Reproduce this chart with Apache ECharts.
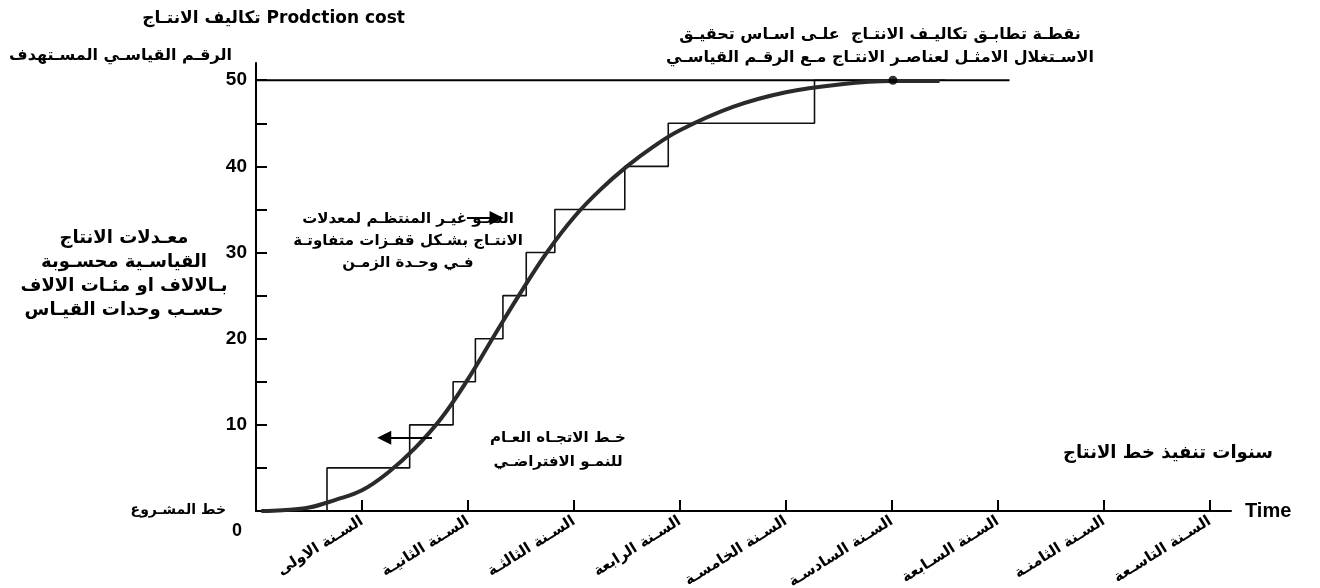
<!DOCTYPE html>
<html>
<head>
<meta charset="utf-8">
<script src="https://cdn.jsdelivr.net/npm/echarts@6/dist/echarts.min.js"></script>
<style>
  html, body { margin: 0; padding: 0; background: #fff; }
  #chart { width: 1320px; height: 588px; }
</style>
</head>
<body>
<div id="chart"></div>
<script>
// سنوات تنفيذ خط الانتاج
const yearTicks = [1, 2, 3, 4, 5, 6, 7, 8, 9]
const yearLabels = [
  'السـنة الاولى', 'السـنة الثانيـة', 'السـنة الثالثـة', 'السـنة الرابعة', 'السـنة الخامسـة',
  'السـنة السادسـة', 'السـنة السـابعة', 'السـنة الثامنـة', 'السـنة التاسـعة'
]
const yTickValues = [5, 10, 15, 20, 25, 30, 35, 40, 45, 50]
const yLabelValues = [10, 20, 30, 40, 50]

// القفزات (النمو غير المنتظم)
const stepRiseX = [0.67, 1.45, 1.86, 2.07, 2.33, 2.55, 2.82, 3.48, 3.89, 5.27]
const stepLevels = [5, 10, 15, 20, 25, 30, 35, 40, 45, 50]
const stepEndX = 6.5

// خط الاتجاه العام
const curveX = [0.05, 0.25, 0.5, 0.75, 1.0, 1.25, 1.5, 1.75, 2.0, 2.25, 2.5, 2.75, 3.0, 3.25, 3.5, 3.75, 4.0, 4.5, 5.0, 5.5, 6.0, 6.45]
const curveY = [0, 0.1, 0.4, 1.3, 2.4, 4.5, 7.3, 10.8, 15.3, 20.4, 25.4, 30.1, 34.1, 37.3, 40.0, 42.3, 44.2, 46.9, 48.6, 49.5, 49.9, 49.9]

// الرقم القياسي المستهدف
const targetX = [0, 7.11]
const targetY = [50, 50]
const matchX = 6.01
const matchY = 50

// الاسهم
const arrowRight = [[1.99, 34.0], [2.27, 34.0]]
const arrowLeft = [[1.66, 8.5], [1.21, 8.5]]

const stepData = [[stepRiseX[0], 0]]
stepRiseX.forEach((x, i) => stepData.push([x, stepLevels[i]]))
stepData.push([stepEndX, stepLevels[stepLevels.length - 1]])

const curveData = curveX.map((x, i) => [x, curveY[i]])
const targetData = targetX.map((x, i) => [x, targetY[i]])

const AR = '"DejaVu Sans", "Noto Sans", sans-serif'
const LAT = '"Liberation Sans", Arial, sans-serif'

// نص ثابت
const txt = (text, x, y, size, align, family, lineHeight) => ({
  type: 'text',
  x: x,
  y: y,
  style: {
    text: text,
    fill: '#000',
    font: 'bold ' + size + 'px ' + (family || AR),
    align: align || 'center',
    textAlign: align || 'center',
    verticalAlign: 'middle',
    textVerticalAlign: 'middle',
    lineHeight: lineHeight || size + 8
  }
})

const chart = echarts.init(document.getElementById('chart'))
chart.setOption({
  animation: false,
  backgroundColor: '#fff',
  grid: { left: 256, right: 89, top: 63, bottom: 77, containLabel: false, outerBoundsMode: 'none' },
  xAxis: {
    type: 'value',
    min: 0,
    max: 9.2,
    axisLine: { show: true, lineStyle: { color: '#000', width: 2 } },
    axisTick: {
      show: true,
      inside: true,
      length: 11,
      customValues: yearTicks,
      lineStyle: { color: '#000', width: 2 }
    },
    axisLabel: {
      customValues: yearTicks,
      rotate: 32,
      margin: 9,
      color: '#000',
      fontSize: 15,
      fontWeight: 'bold',
      fontFamily: AR,
      formatter: (v) => yearLabels[Math.round(v) - 1] || ''
    },
    splitLine: { show: false }
  },
  yAxis: {
    type: 'value',
    min: 0,
    max: 52,
    axisLine: { show: true, lineStyle: { color: '#000', width: 2 } },
    axisTick: {
      show: true,
      inside: true,
      length: 11,
      customValues: yTickValues,
      lineStyle: { color: '#000', width: 2 }
    },
    axisLabel: {
      customValues: yLabelValues,
      margin: 9,
      color: '#000',
      fontSize: 19,
      fontWeight: 'bold',
      fontFamily: LAT
    },
    splitLine: { show: false }
  },
  series: [
    {
      name: 'steps',
      type: 'line',
      step: 'end',
      data: stepData,
      showSymbol: false,
      lineStyle: { color: '#111', width: 1.6 },
      z: 2
    },
    {
      name: 'target',
      type: 'line',
      data: targetData,
      showSymbol: false,
      lineStyle: { color: '#000', width: 2 },
      z: 3,
      markLine: {
        silent: true,
        symbol: ['none', 'triangle'],
        symbolSize: 14,
        label: { show: false },
        lineStyle: { color: '#000', width: 2, type: 'solid' },
        data: [
          [{ coord: arrowRight[0] }, { coord: arrowRight[1] }],
          [{ coord: arrowLeft[0] }, { coord: arrowLeft[1] }]
        ]
      }
    },
    {
      name: 'trend',
      type: 'line',
      smooth: 0.4,
      data: curveData,
      showSymbol: false,
      lineStyle: { color: '#2a2a2a', width: 4 },
      z: 4
    },
    {
      name: 'match',
      type: 'scatter',
      data: [[matchX, matchY]],
      symbolSize: 9,
      itemStyle: { color: '#000' },
      z: 5
    }
  ],
  graphic: [
    txt('تكاليف الانتـاج Prodction cost', 405, 19, 17, 'right'),
    txt('الرقـم القياسـي المسـتهدف', 232, 56, 16, 'right'),
    txt('نقطـة تطابـق تكاليـف الانتـاج  علـى اسـاس تحقيـق\nالاسـتغلال الامثـل لعناصـر الانتـاج مـع الرقـم القياسـي', 880, 46, 16, 'center', AR, 23),
    txt('معـدلات الانتاج\nالقياسـية محسـوبة\nبـالالاف او مئـات الالاف\nحسـب وحدات القيـاس', 124, 274, 18, 'center', AR, 24),
    txt('النمـو غيـر المنتظـم لمعدلات\nالانتـاج بشـكل قفـزات متفاوتـة\nفـي وحـدة الزمـن', 408, 241, 15, 'center', AR, 22),
    txt('خـط الاتجـاه العـام\nللنمـو الافتراضـي', 558, 450, 15, 'center', AR, 24),
    txt('سنوات تنفيذ خط الانتاج', 1168, 453, 18, 'center'),
    txt('خط المشـروع', 226, 510, 14, 'right'),
    txt('0', 237, 531, 18, 'center', LAT),
    txt('Time', 1245, 511, 20, 'left', LAT)
  ]
})
</script>
</body>
</html>
